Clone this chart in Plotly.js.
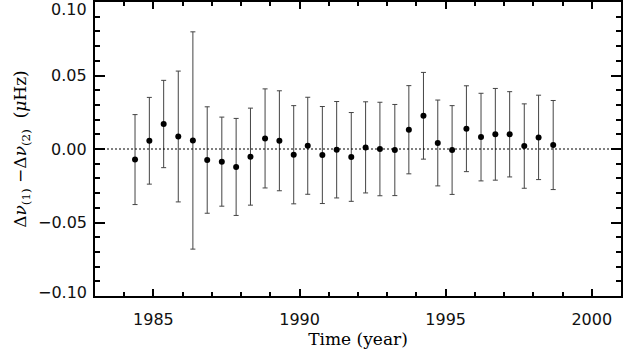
<!DOCTYPE html>
<html>
<head>
<meta charset="utf-8">
<script src="https://cdn.plot.ly/plotly-3.0.1.min.js"></script>
<style>html,body{margin:0;padding:0;background:#fff;}#chart{width:623px;height:353px;}</style>
</head>
<body>
<div id="chart"></div>
<script>
// Data
const years = [1984.37, 1984.86, 1985.35, 1985.85, 1986.35, 1986.84, 1987.34, 1987.83, 1988.32, 1988.82,
               1989.31, 1989.80, 1990.28, 1990.78, 1991.27, 1991.77, 1992.26, 1992.75, 1993.26, 1993.74,
               1994.24, 1994.73, 1995.22, 1995.71, 1996.21, 1996.70, 1997.19, 1997.69, 1998.18, 1998.68];
const diffs = [-0.0072, 0.0056, 0.0170, 0.0085, 0.0058, -0.0075, -0.0086, -0.0122, -0.0052, 0.0072,
               0.0056, -0.0039, 0.0022, -0.0041, -0.0005, -0.0054, 0.0011, 0.0000, -0.0007, 0.0131,
               0.0226, 0.0041, -0.0007, 0.0138, 0.0081, 0.0100, 0.0100, 0.0020, 0.0079, 0.0027];
const errors = [0.0306, 0.0295, 0.0297, 0.0445, 0.0739, 0.0362, 0.0303, 0.0330, 0.0330, 0.0337,
                0.0340, 0.0334, 0.0330, 0.0330, 0.0328, 0.0302, 0.0310, 0.0318, 0.0310, 0.0300,
                0.0295, 0.0292, 0.0302, 0.0292, 0.0298, 0.0312, 0.0290, 0.0287, 0.0287, 0.0303];
const xTickVals = [1985, 1990, 1995, 2000];
const xTickText = ['1985', '1990', '1995', '2000'];
const yTickVals = [-0.10, -0.05, 0.00, 0.05, 0.10];
const yTickText = ['\u22120.10', '\u22120.05', '0.00', '0.05', '0.10'];

const xRange = [1983, 2001];
const yRange = [-0.10, 0.10];
const tickFont = {family: 'DejaVu Sans', size: 16, color: '#111'};
const titleFont = {family: 'DejaVu Serif', size: 17, color: '#000'};

const trace = {
  x: years, y: diffs, type: 'scatter', mode: 'markers',
  marker: {color: '#000', size: 6},
  error_y: {type: 'data', array: errors, visible: true, color: '#444', thickness: 1, width: 2.5},
  hoverinfo: 'x+y'
};

const annotations = yTickVals.map((v, i) => ({
  xref: 'paper', yref: 'y', x: 0, y: v, text: yTickText[i],
  showarrow: false, xanchor: 'right', yanchor: 'middle',
  xshift: -6, yshift: (i === yTickVals.length - 1) ? -7 : (i === 0 ? 3.5 : 0),
  font: tickFont
}));

const layout = {
  width: 623, height: 353,
  margin: {l: 95, r: 2, t: 1.5, b: 56.5},
  paper_bgcolor: '#fff', plot_bgcolor: '#fff',
  showlegend: false,
  xaxis: {
    range: xRange, tickvals: xTickVals, ticktext: xTickText,
    ticks: 'inside', ticklen: 7, tickwidth: 2, tickcolor: '#000',
    showline: true, linewidth: 2, linecolor: '#000', mirror: 'allticks',
    showgrid: false, zeroline: false,
    tickfont: tickFont, ticklabelstandoff: 8,
    minor: {ticks: 'inside', dtick: 1, tick0: 1983, ticklen: 4, tickwidth: 2, tickcolor: '#000', showgrid: false},
    title: {text: 'Time (year)', font: titleFont, standoff: 2}
  },
  yaxis: {
    range: yRange, tickvals: yTickVals, showticklabels: false,
    ticks: 'inside', ticklen: 10, tickwidth: 2, tickcolor: '#000',
    showline: true, linewidth: 2, linecolor: '#000', mirror: 'allticks',
    showgrid: false, zeroline: false,
    minor: {ticks: 'inside', dtick: 0.01, tick0: 0, ticklen: 5, tickwidth: 2, tickcolor: '#000', showgrid: false},
    title: {text: '\u0394<i>\u03bd</i><sub>(1)</sub> \u2212\u0394<i>\u03bd</i><sub>(2)</sub>  (<i>\u03bc</i>Hz)',
            font: titleFont, standoff: 62}
  },
  shapes: [{
    type: 'line', xref: 'paper', yref: 'y', x0: 0, x1: 1, y0: 0, y1: 0,
    line: {color: '#000', width: 1, dash: '2px,2px'}
  }],
  annotations: annotations
};

Plotly.newPlot('chart', [trace], layout, {displayModeBar: false, staticPlot: true});
</script>
</body>
</html>
